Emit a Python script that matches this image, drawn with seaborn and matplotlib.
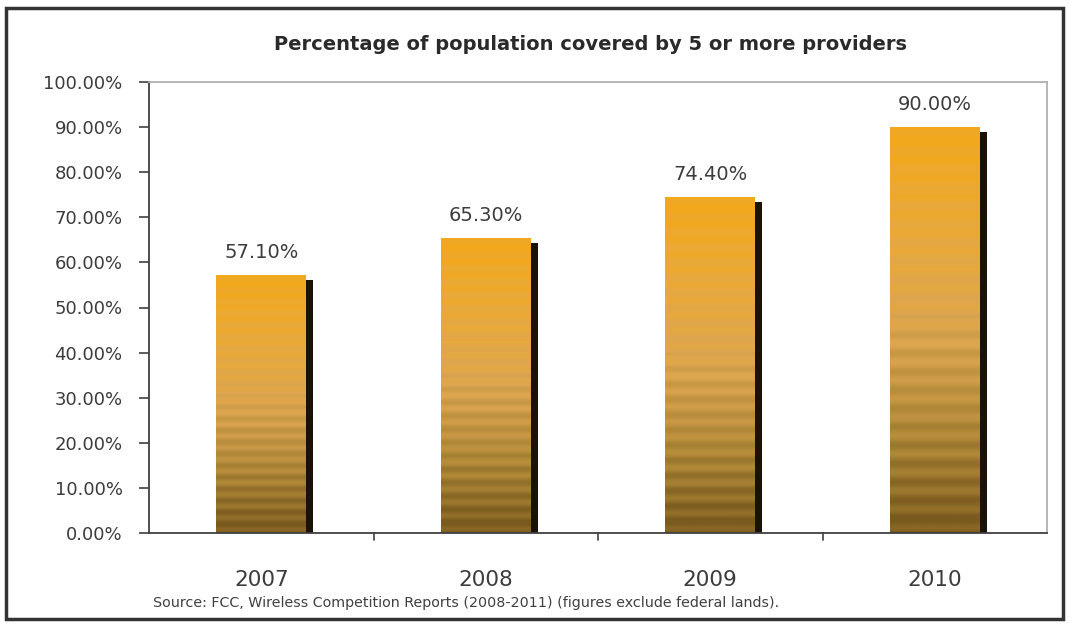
import numpy as np
import matplotlib
matplotlib.use('Agg')
import matplotlib.pyplot as plt
import matplotlib.patheffects as pe
from matplotlib.colors import LinearSegmentedColormap
from matplotlib.ticker import PercentFormatter, FixedLocator
from matplotlib.patches import Rectangle
import seaborn as sns

# Data
years = ['2007', '2008', '2009', '2010']
coverage = [57.10, 65.30, 74.40, 90.00]
title = 'Percentage of population covered by 5 or more providers'
source = 'Source: FCC, Wireless Competition Reports (2008-2011) (figures exclude federal lands).'

sns.set_style('white')
plt.rcParams['font.family'] = ['DejaVu Sans']

fig = plt.figure(figsize=(10.69, 6.27), dpi=100)
ax = fig.add_axes([149 / 1069, 1 - 533 / 627, 898 / 1069, 451 / 627])

sns.barplot(x=years, y=coverage, width=0.4, color='#e8a830', ax=ax,
            edgecolor='none', saturation=1)

# gradient with horizontal stripes, like the old Excel fill
grad = LinearSegmentedColormap.from_list('gold', [
    (0.0, '#7a5a1e'), (0.25, '#b08838'), (0.5, '#dca550'),
    (0.75, '#e9aa3a'), (1.0, '#f2a81c')])
rows = np.linspace(0, 1, 300)
stripes = 0.06 * np.sin(rows * 2 * np.pi * 22)
vals = np.clip(rows + stripes, 0, 1)[::-1].reshape(-1, 1)

for p in ax.patches:
    p.set_path_effects([pe.SimplePatchShadow(offset=(5, -3.5), shadow_rgbFace='#1a1206', alpha=1.0),
                        pe.Normal()])
    x0, w, h = p.get_x(), p.get_width(), p.get_height()
    im = ax.imshow(vals, cmap=grad, aspect='auto', extent=(x0, x0 + w, 0, h),
                   zorder=p.get_zorder() + 0.1, vmin=0, vmax=1)
    im.set_clip_path(p)

for i, v in enumerate(coverage):
    ax.text(i, v + 5.0, f'{v:.2f}%', ha='center', va='center', fontsize=14, color='#3c3c3c')

ax.set_xlim(-0.5, 3.5)
ax.set_ylim(0, 100)
ax.yaxis.set_major_locator(FixedLocator(np.arange(0, 101, 10)))
ax.yaxis.set_major_formatter(PercentFormatter(decimals=2))
ax.tick_params(axis='y', labelsize=13, labelcolor='#3c3c3c', color='#404040',
               length=7, width=1.2, direction='out', left=True, pad=12)
ax.tick_params(axis='x', labelsize=15.5, labelcolor='#3c3c3c', pad=27, length=0)
for b in [0.5, 1.5, 2.5]:
    ax.plot([b, b], [0, -1.6], color='#404040', lw=1.2, clip_on=False)
ax.set_xlabel('')
ax.set_ylabel('')

for s in ['left', 'bottom']:
    ax.spines[s].set_color('#404040')
    ax.spines[s].set_linewidth(1.3)
for s in ['top', 'right']:
    ax.spines[s].set_color('#b0b0b0')
    ax.spines[s].set_linewidth(1.3)

fig.text(590 / 1069, 1 - 45 / 627, title, ha='center', va='center', fontsize=14,
         fontweight='bold', color='#2a2a2a')
fig.text(153 / 1069, 1 - 603 / 627, source, ha='left', va='center', fontsize=10.3, color='#404040')

fig.patches.append(Rectangle((0.006, 0.012), 0.988, 0.975, transform=fig.transFigure,
                             fill=False, edgecolor='#333333', lw=2.5))

fig.savefig('out.png', dpi=100)
